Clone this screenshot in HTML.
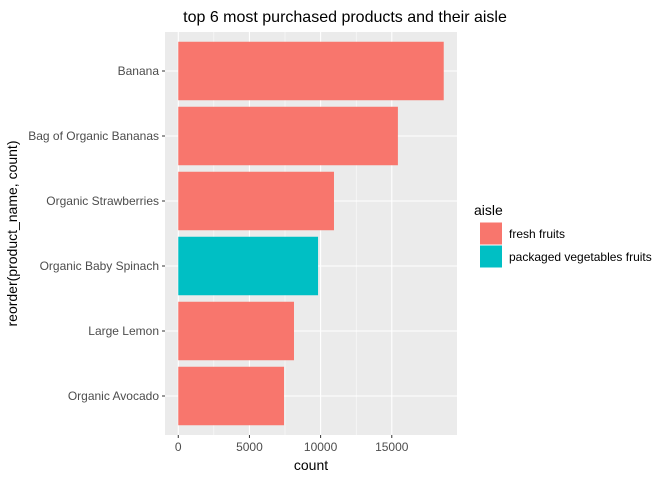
<!DOCTYPE html>
<html><head><meta charset="utf-8"><style>
body{margin:0;background:#fff;font-family:"Liberation Sans",Arial,sans-serif}
</style></head><body>
<svg id="c" width="672" height="480" xmlns="http://www.w3.org/2000/svg"></svg>
<script>
const categories=["Banana","Bag of Organic Bananas","Organic Strawberries","Organic Baby Spinach","Large Lemon","Organic Avocado"];
const counts=[18650,15430,10940,9820,8130,7430];
const aisles=["fresh fruits","fresh fruits","fresh fruits","packaged vegetables fruits","fresh fruits","fresh fruits"];
const legendLabels=["fresh fruits","packaged vegetables fruits"];
const xTicks=[0,5000,10000,15000];
const colors={"fresh fruits":"#F8766D","packaged vegetables fruits":"#00BFC4"};
const NS="http://www.w3.org/2000/svg";
const svg=document.getElementById('c');
function el(t,a,p){const e=document.createElementNS(NS,t);for(const k in a)e.setAttribute(k,a[k]);(p||svg).appendChild(e);return e;}
const L=165,R=457,T=32,B=435;
const maxV=Math.max(...counts);
const xmin=-0.05*maxV,xmax=1.05*maxV;
const x=v=>L+(v-xmin)/(xmax-xmin)*(R-L);
const n=categories.length,step=(B-T)/(n+0.2);
const y=i=>T+step*(0.6+i);
const p=el('rect',{x:L,y:T,width:R-L,height:B-T,fill:'#EBEBEB'});

for(let i=0;i<xTicks.length-1;i++){const m=(xTicks[i]+xTicks[i+1])/2;el('line',{x1:x(m),x2:x(m),y1:T,y2:B,stroke:'#fff','stroke-width':0.5});}
xTicks.forEach(t=>{const g=el('line',{x1:x(t),x2:x(t),y1:T,y2:B,stroke:'#fff','stroke-width':1.1});

el('line',{x1:x(t),x2:x(t),y1:B,y2:B+3,stroke:'#333'});
const tx=el('text',{x:x(t),y:B+16,'text-anchor':'middle','font-size':12,fill:'#4D4D4D'});tx.textContent=t;
});
categories.forEach((c,i)=>{el('line',{x1:L,x2:R,y1:y(i),y2:y(i),stroke:'#fff','stroke-width':1.1});
el('line',{x1:L-3,x2:L,y1:y(i),y2:y(i),stroke:'#333'});
const tx=el('text',{x:L-6,y:y(i)+4,'text-anchor':'end','font-size':12,fill:'#4D4D4D'});tx.textContent=c;
});
categories.forEach((c,i)=>{const h=step*0.9;
const b=el('rect',{x:x(0),y:y(i)-h/2,width:x(counts[i])-x(0),height:h,fill:colors[aisles[i]]});
});
let t=el('text',{x:(L+R)/2+34,y:22,'text-anchor':'middle','font-size':16,fill:'#000'});t.textContent='top 6 most purchased products and their aisle';

t=el('text',{x:(L+R)/2,y:470,'text-anchor':'middle','font-size':14,fill:'#000'});t.textContent='count';

t=el('text',{x:0,y:0,'text-anchor':'middle','font-size':14,fill:'#000',transform:`translate(17,${(T+B)/2}) rotate(-90)`});t.textContent='reorder(product_name, count)';

t=el('text',{x:474,y:215,'font-size':14,fill:'#000'});t.textContent='aisle';

legendLabels.forEach((lb,i)=>{const yy=222+i*23;
const k=el('rect',{x:480,y:yy+0.5,width:22,height:22,fill:colors[lb]});

const tx=el('text',{x:509,y:yy+16,'font-size':12,fill:'#000'});tx.textContent=lb;
});
</script>
</body></html>
